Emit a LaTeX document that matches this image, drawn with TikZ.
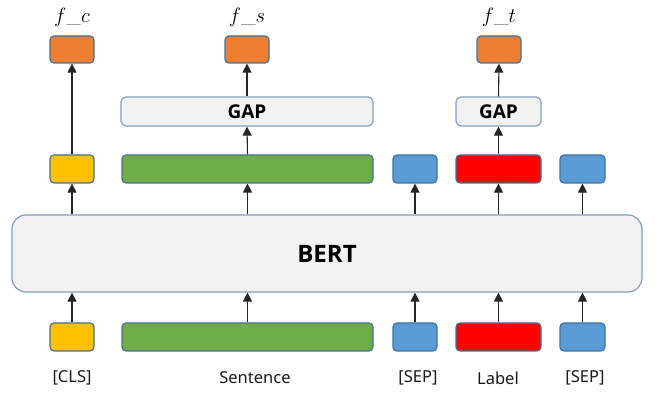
\documentclass[tikz,border=0pt]{standalone}
\usepackage{fontspec}
\setsansfont{Open Sans}
\newfontfamily\labfont{Noto Sans}
\usetikzlibrary{arrows.meta}
\definecolor{cOrange}{HTML}{ED7D31}
\definecolor{cYellow}{HTML}{FFC000}
\definecolor{cGreen}{HTML}{70AD47}
\definecolor{cBlue}{HTML}{5B9BD5}
\definecolor{cRed}{HTML}{FF0000}
\definecolor{cGrey}{HTML}{F2F2F2}
\definecolor{cEdge}{HTML}{41719C}
\definecolor{cEdgeL}{HTML}{7F9FC4}
\tikzset{
  tok/.style={draw=cEdge, line width=1.2pt, rounded corners=4pt, minimum height=28pt, inner sep=0pt},
  gapbox/.style={draw=cEdgeL, fill=cGrey, line width=1.2pt, rounded corners=5pt, minimum height=29pt, inner sep=0pt, font=\sffamily\bfseries\fontsize{19}{19}\selectfont},
  bertbox/.style={draw=cEdgeL, fill=cGrey, line width=1.2pt, rounded corners=14pt, inner sep=0pt, font=\sffamily\bfseries\fontsize{24}{24}\selectfont},
  lab/.style={font=\labfont\fontsize{16.5}{16.5}\selectfont, text=black!90, inner sep=0pt},
  flab/.style={font=\fontsize{21}{21}\selectfont, inner sep=0pt},
  arr/.style={-{Triangle[length=9pt,width=9pt]}, line width=1.1pt, black!85}
}
\begin{document}
\begin{tikzpicture}[x=1pt,y=-1pt]
\useasboundingbox (0,0) rectangle (657,411);
% BERT
\node[bertbox, minimum width=630pt, minimum height=77pt] (bert) at (327,253.5) {BERT};
% bottom tokens
\node[tok, fill=cYellow, minimum width=44pt] (b1) at (72,337) {};
\node[tok, fill=cGreen, minimum width=251pt] (b2) at (247.5,337) {};
\node[tok, fill=cBlue, minimum width=44pt] (b3) at (415,337) {};
\node[tok, fill=cRed, minimum width=85pt] (b4) at (498.5,337) {};
\node[tok, fill=cBlue, minimum width=45pt] (b5) at (582.5,337) {};
% labels
\node[lab] (l1) at (72,378) {[CLS]};
\node[lab] (l2) at (255,378) {Sentence};
\node[lab] (l3) at (418,378) {[SEP]};
\node[lab] (l4) at (498,378) {Label};
\node[lab] (l5) at (585,378) {[SEP]};
% middle tokens
\node[tok, fill=cYellow, minimum width=44pt] (m1) at (72,169) {};
\node[tok, fill=cGreen, minimum width=251pt] (m2) at (247.5,169) {};
\node[tok, fill=cBlue, minimum width=44pt] (m3) at (415,169) {};
\node[tok, fill=cRed, minimum width=85pt] (m4) at (498.5,169) {};
\node[tok, fill=cBlue, minimum width=45pt] (m5) at (582.5,169) {};
% GAP
\node[gapbox, minimum width=252pt] (g1) at (247,111.5) {GAP};
\node[gapbox, minimum width=85pt] (g2) at (498.5,111.5) {GAP};
% outputs
\node[tok, fill=cOrange, minimum width=44pt, minimum height=27pt] (o1) at (72,49.5) {};
\node[tok, fill=cOrange, minimum width=44pt, minimum height=27pt] (o2) at (247,49.5) {};
\node[tok, fill=cOrange, minimum width=44pt, minimum height=27pt] (o3) at (499,49.5) {};
\node[flab] (f1) at (72,17) {$f\_c$};
\node[flab] (f2) at (247,17) {$f\_s$};
\node[flab] (f3) at (499,17) {$f\_t$};
% arrows bottom -> BERT
\foreach \n in {b1,b2,b3,b4,b5} \draw[arr] (\n.north) -- (\n.north |- bert.south);
% arrows BERT -> middle
\foreach \n in {m1,m2,m3,m4,m5} \draw[arr] (\n.south |- bert.north) -- (\n.south);
% upper arrows
\draw[arr] (m1.north) -- (o1.south);
\draw[arr] (m2.north) -- (g1.south);
\draw[arr] (g1.north) -- (o2.south);
\draw[arr] (m4.north) -- (g2.south);
\draw[arr] (g2.north) -- (o3.south);
\end{tikzpicture}
\end{document}
